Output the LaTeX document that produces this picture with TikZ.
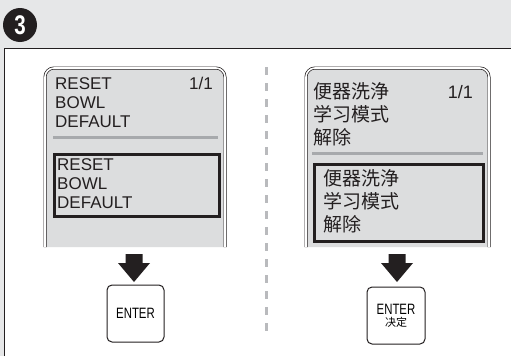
\documentclass[tikz,border=0pt]{standalone}
\usepackage{fontspec}
\usepackage{graphicx}
\setmainfont{Liberation Sans}
\newfontfamily\cjkfont{Noto Sans CJK SC}

\definecolor{bandgray}{HTML}{E6E7E8}
\definecolor{lcdgray}{HTML}{DCDDDE}
\definecolor{rulegray}{HTML}{A7A9AC}
\definecolor{inkblack}{HTML}{231F20}

\newcommand{\narrow}[1]{\scalebox{0.76}[1]{#1}}

\begin{document}
\begin{tikzpicture}[x=1pt,y=-1pt,
                screen/.style={
                    fill=lcdgray,
                    draw=inkblack,
                    line width=0.7pt,
                    double=white,
                    double distance=1.6pt,
                    rounded corners=9pt
                },
                latintext/.style={
                    inner sep=0pt,
                    align=left,
                    text=inkblack,
                    font=\fontsize{17}{19}\selectfont
                },
                cjktext/.style={
                    inner sep=0pt,
                    align=left,
                    text=inkblack,
                    font=\cjkfont\fontsize{19}{23}\selectfont
                },
                selbox/.style={
                    draw=inkblack,
                    line width=2.5pt,
                    inner sep=0pt,
                    anchor=north west
                },
                keybox/.style={
                    draw=inkblack,
                    fill=white,
                    line width=1pt,
                    rounded corners=5pt,
                    minimum width=57pt,
                    minimum height=57pt,
                    align=center,
                    inner sep=0pt
                },
                sepline/.style={
                    draw=rulegray,
                    line width=3pt
                }
            ]

    % background and frame
    \fill[bandgray] (0,0) rectangle (511,356);
    \useasboundingbox (0,0) rectangle (511,356);
    \fill[white] (4,48) rectangle (511,356);
    \draw[inkblack, line width=1pt] (4,356) -- (4,48) -- (511,48);
    \node[circle, fill=inkblack, minimum size=34pt, inner sep=0pt, text=white,
          font=\bfseries\fontsize{27}{27}\selectfont] (stepnum) at (20,25) {\narrow{3}};

    % divider
    \draw[rulegray!80, line width=3pt, dash pattern=on 8pt off 8pt] (266,67) -- (266,332);

    % left screen (English)
    \path[screen] (45,247) -- (45,68) -- (225,68) -- (225,247);
    \node[latintext, anchor=west] (menuL) at (55,103) {RESET\\BOWL\\DEFAULT};
    \node[latintext, anchor=east] (pageL) at (213,83) {1/1};
    \draw[sepline] (53,137) -- (218,137);
    \node[selbox, minimum width=165pt, minimum height=62pt] (boxL) at (53,153) {};
    \node[latintext, anchor=west] (itemL) at (57,184) {RESET\\BOWL\\DEFAULT};

    % right screen (Chinese)
    \path[screen] (306,247) -- (306,68) -- (489,68) -- (489,247);
    \node[cjktext, anchor=west] (menuR) at (313,114.5) {便器洗浄\\学习模式\\解除};
    \node[latintext, anchor=east, font=\fontsize{18}{19}\selectfont] (pageR) at (473,92) {1/1};
    \draw[sepline] (312,153) -- (483,153);
    \node[selbox, line width=3pt, minimum width=169pt, minimum height=77pt] (boxR) at (313,163) {};
    \node[cjktext, anchor=west] (itemR) at (323,201) {便器洗浄\\学习模式\\解除};

    % arrows and keys
    \foreach \cx in {134,397}
        \fill[inkblack] (\cx-8.5,254) -- (\cx+8.5,254) -- (\cx+8.5,263) -- (\cx+16,263)
            -- (\cx,282) -- (\cx-16,263) -- (\cx-8.5,263) -- cycle;
    \node[keybox] (enterL) at (135.5,313.5) {\fontsize{15}{15}\selectfont\narrow{ENTER}};
    \node[keybox, minimum width=58pt] (enterR) at (396,315.5)
        {\fontsize{15}{13}\selectfont\narrow{ENTER}\\[0pt]{\cjkfont\fontsize{11}{11}\selectfont 决定}};
\end{tikzpicture}
\end{document}
